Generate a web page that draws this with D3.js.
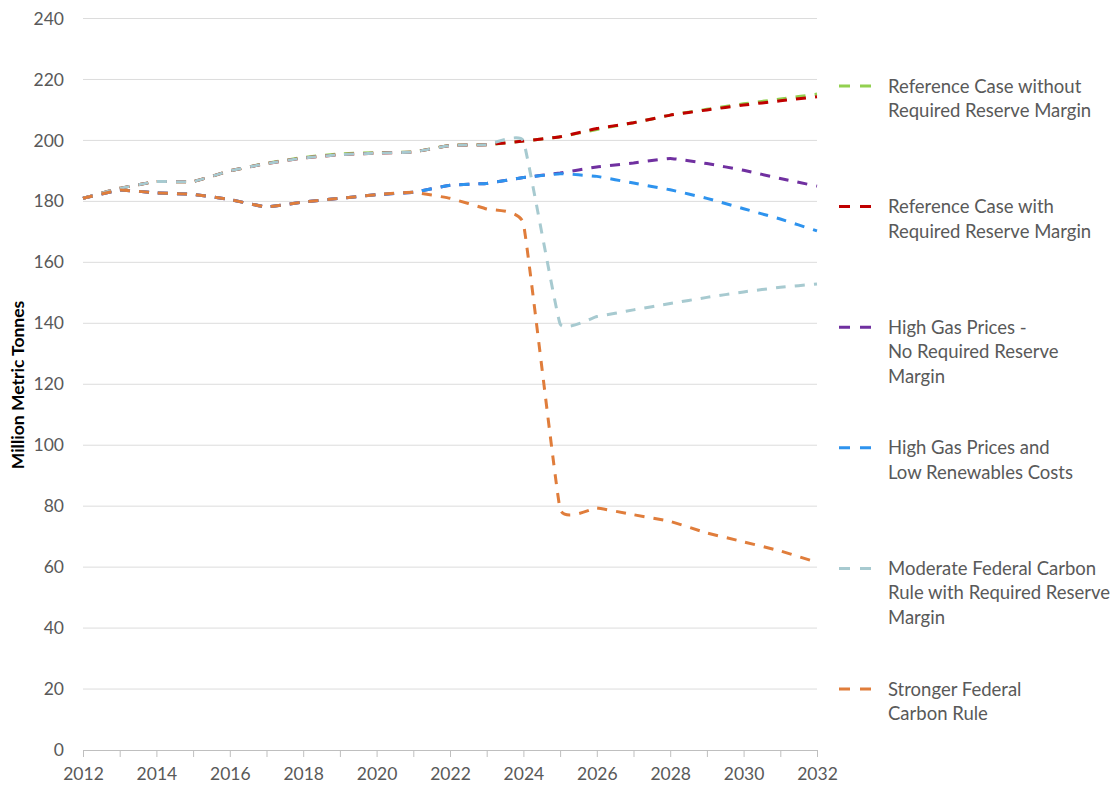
<!DOCTYPE html>
<html>
<head>
<meta charset="utf-8">
<script src="https://cdn.jsdelivr.net/npm/d3@7"></script>
<style>
  html, body { margin: 0; padding: 0; background: #fff; }
  svg { display: block; font-family: Lato, "Open Sans", sans-serif; }
</style>
</head>
<body>
<svg id="chart" width="1118" height="787"></svg>
<script>
const years = d3.range(2012, 2033);
const yTicks = [0, 20, 40, 60, 80, 100, 120, 140, 160, 180, 200, 220, 240];
const xLabelYears = [2012, 2014, 2016, 2018, 2020, 2022, 2024, 2026, 2028, 2030, 2032];

const seriesNames = [
  "Reference Case without|Required Reserve Margin",
  "Reference Case with|Required Reserve Margin",
  "High Gas Prices -|No Required Reserve|Margin",
  "High Gas Prices and|Low Renewables Costs",
  "Moderate Federal Carbon|Rule with Required Reserve|Margin",
  "Stronger Federal|Carbon Rule"
];
const seriesColors = ["#92D050", "#C00000", "#7030A0", "#2E93EE", "#A7CAD0", "#E07D3B"];

const refNoRRM      = [181, 184.3, 186.5, 186.5, 190, 192.5, 194.4, 195.6, 196, 196.2, 198.4, 198.6, 199.8, 201.2, 203.6, 205.8, 208.3, 210.2, 212, 213.6, 215.2];
const refRRM        = [181, 184.3, 186.5, 186.5, 190, 192.4, 194.2, 195.3, 195.8, 196.2, 198.3, 198.6, 199.8, 201.2, 203.9, 205.8, 208.3, 210, 211.6, 213, 214.3];
const highGas       = [181, 183.7, 182.8, 182.3, 180.6, 178.2, 179.8, 181, 182.2, 183, 185.3, 185.9, 187.8, 189.3, 191.3, 192.6, 194.1, 192.4, 190.2, 187.5, 185];
const highGasLowRen = [181, 183.7, 182.8, 182.3, 180.6, 178.2, 179.8, 181, 182.2, 183, 185.3, 185.9, 187.8, 189.1, 188.2, 186, 183.8, 181, 177.6, 174.2, 170.3];
const moderateCarbon= [181, 184.3, 186.5, 186.5, 190, 192.4, 194.2, 195.3, 195.8, 196.2, 198.3, 198.6, 199.8, 139.8, 142.2, 144.4, 146.5, 148.5, 150.3, 151.8, 152.9];
const strongerCarbon= [181, 183.7, 182.8, 182.3, 180.6, 178.2, 179.8, 181, 182.2, 183, 181, 177.5, 172.7, 79.1, 79.4, 77.2, 75, 71.2, 68.3, 65.3, 61.6];

const seriesValues = [refNoRRM, refRRM, highGas, highGasLowRen, moderateCarbon, strongerCarbon];

const svg = d3.select("#chart");
const plotLeft = 83, plotRight = 817, plotTop = 18.5, plotBottom = 750;

const x = d3.scaleLinear().domain([2012, 2032]).range([plotLeft, plotRight]);
const y = d3.scaleLinear().domain([0, 240]).range([plotBottom, plotTop]);

// gridlines
svg.append("g").selectAll("line").data(yTicks.filter(d => d > 0)).join("line")
  .attr("x1", plotLeft).attr("x2", plotRight)
  .attr("y1", d => y(d)).attr("y2", d => y(d))
  .attr("stroke", "#DCDCDC").attr("stroke-width", 1);

// y axis
const yAxis = svg.append("g").attr("transform", `translate(${plotLeft},0)`)
  .call(d3.axisLeft(y).tickValues(yTicks).tickSize(0).tickPadding(19));
yAxis.select(".domain").remove();
yAxis.selectAll("text").attr("fill", "#595959").style("font-size", "17.5px").style("font-family", "Lato, sans-serif");

// x axis
const xAxis = svg.append("g").attr("transform", `translate(0,${plotBottom})`)
  .call(d3.axisBottom(x).tickValues(years).tickSize(7).tickPadding(11)
    .tickFormat(d => xLabelYears.includes(d) ? String(d) : ""));
xAxis.select(".domain").attr("stroke", "#BFBFBF");
xAxis.selectAll(".tick line").attr("stroke", "#BFBFBF");
xAxis.selectAll("text").attr("fill", "#595959").style("font-size", "17.5px").style("font-family", "Lato, sans-serif");

// y title
svg.append("text")
  .attr("transform", `translate(24,385) rotate(-90)`)
  .attr("text-anchor", "middle")
  .attr("fill", "#000")
  .style("font-size", "17.5px").style("font-weight", "bold")
  .text("Million Metric Tonnes");

// lines
const line = d3.line().x((d, i) => x(years[i])).y(d => y(d)).curve(d3.curveCardinal.tension(0.7));
svg.append("g").selectAll("path").data(seriesValues).join("path")
  .attr("d", d => line(d))
  .attr("fill", "none")
  .attr("stroke", (d, i) => seriesColors[i])
  .attr("stroke-width", 3)
  .attr("stroke-dasharray", "10,9");

// legend
const legend = svg.append("g");
seriesNames.forEach((name, i) => {
  const cy = 86 + i * 120.6;
  const g = legend.append("g");
  g.append("line").attr("x1", 839).attr("x2", 872).attr("y1", cy).attr("y2", cy)
    .attr("stroke", seriesColors[i]).attr("stroke-width", 3).attr("stroke-dasharray", "11,10");
  const t = g.append("text").attr("x", 888).attr("y", cy + 6.5)
    .attr("fill", "#595959").style("font-size", "18.5px");
  name.split("|").forEach((ln, j) => {
    t.append("tspan").attr("x", 888).attr("dy", j === 0 ? 0 : 24.5).text(ln);
  });
});
</script>
</body>
</html>
